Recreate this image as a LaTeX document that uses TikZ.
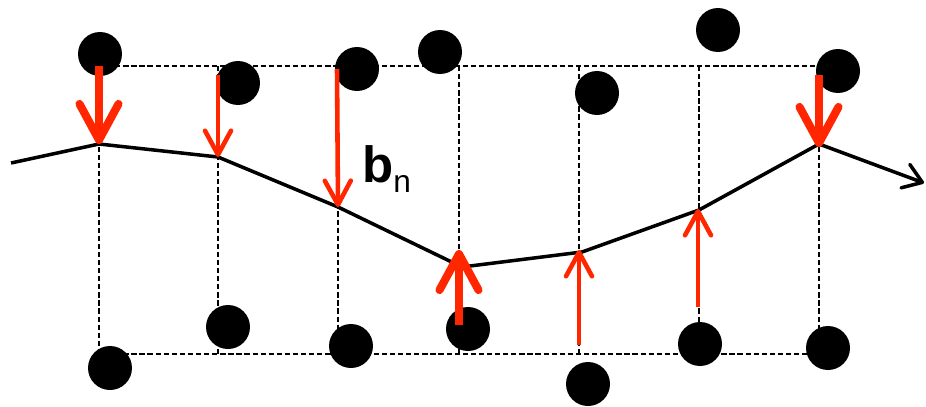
\documentclass[tikz,border=0pt]{standalone}
\usepackage{fontspec}
\setmainfont{Liberation Sans}
\usetikzlibrary{arrows.meta}
\definecolor{kraftrot}{RGB}{255,38,0}

\begin{document}
\begin{tikzpicture}[
  x=0.02cm, y=-0.02cm,
  atom/.style={circle, fill=black, inner sep=0pt, minimum size=0.88cm},
  gitter/.style={line width=0.7pt, dash pattern=on 3pt off 1.6pt},
  kette/.style={line width=2pt, line join=round},
  dick/.style={draw=kraftrot, line width=4.6pt, -{Straight Barb[round, length=0.72cm, width=0.78cm]}},
  duenn/.style={draw=kraftrot, line width=2.6pt, -{Straight Barb[round, length=0.48cm, width=0.52cm]}},
]
\useasboundingbox (0,0) rectangle (926,406);
% gitter
\coordinate (o1) at (99,66);  \coordinate (u1) at (99,354);
\coordinate (o2) at (218,66); \coordinate (u2) at (218,354);
\coordinate (o3) at (338,66); \coordinate (u3) at (338,354);
\coordinate (o4) at (459,66); \coordinate (u4) at (459,354);
\coordinate (o5) at (579,66); \coordinate (u5) at (579,354);
\coordinate (o6) at (699,66); \coordinate (u6) at (699,354);
\coordinate (o7) at (819,66); \coordinate (u7) at (819,354);
\draw[gitter] (o1) -- (o7);
\draw[gitter] (u1) -- (u7);
\foreach \i in {1,...,7} \draw[gitter] (o\i) -- (u\i);
% atome oben / unten
\node[atom] (a1) at (100,54) {};
\node[atom] (a2) at (238,83) {};
\node[atom] (a3) at (357,69) {};
\node[atom] (a4) at (440,52) {};
\node[atom] (a5) at (597,93) {};
\node[atom] (a6) at (718,30) {};
\node[atom] (a7) at (838,71) {};
\node[atom] (d1) at (110,368) {};
\node[atom] (d2) at (228,327) {};
\node[atom] (d3) at (351,346) {};
\node[atom] (d4) at (468,329) {};
\node[atom] (d5) at (588,384) {};
\node[atom] (d6) at (700,344) {};
\node[atom] (d7) at (828,348) {};
% kette
\coordinate (k0) at (11,163);
\coordinate (k1) at (99,144);
\coordinate (k2) at (218,157);
\coordinate (k3) at (338,207);
\coordinate (k4) at (462,267);
\coordinate (k5) at (582,252);
\coordinate (k6) at (699,210);
\coordinate (k7) at (819,144);
\coordinate (k8) at (924,183);
\draw[kette, -{Straight Barb[round, length=0.36cm, width=0.5cm]}]
  (k0) -- (k1) -- (k2) -- (k3) -- (k4) -- (k5) -- (k6) -- (k7) -- (k8);
% kraefte
\coordinate (s1) at (99,66);
\coordinate (s2) at (218,75);
\coordinate (s3) at (337,69);
\coordinate (s4) at (459,325);  \coordinate (e4) at (459,250);
\coordinate (s5) at (579,345);  \coordinate (e5) at (579,250);
\coordinate (s6) at (698,307);  \coordinate (e6) at (698,209);
\coordinate (s7) at (819,75);   \coordinate (e7) at (819,147);
\draw[dick] (s1) -- (k1);
\draw[duenn] (s2) -- (k2);
\draw[duenn] (s3) -- (k3);
\draw[dick] (s4) -- (e4);
\draw[duenn] (s5) -- (e5);
\draw[duenn] (s6) -- (e6);
\draw[dick] (s7) -- (e7);
\node[anchor=base west, inner sep=0pt] (bn) at (362,182)
  {\fontsize{29}{29}\selectfont\textbf{b}\raisebox{-6pt}{\fontsize{18}{18}\selectfont n}};
\end{tikzpicture}
\end{document}
